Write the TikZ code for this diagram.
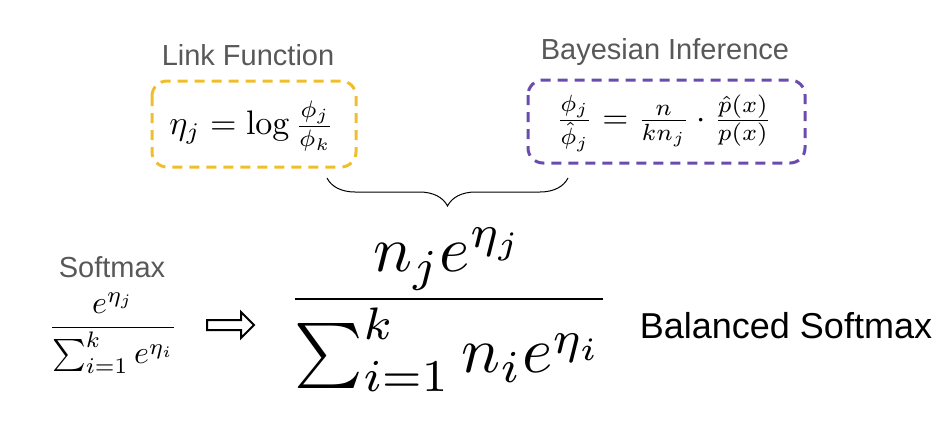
\documentclass[tikz,border=0pt]{standalone}
\usepackage{fontspec}
\usepackage{amsmath}
\usepackage{graphicx}
\usetikzlibrary{decorations.pathreplacing,shapes.arrows}
\newfontfamily\labfont{Liberation Sans}
\definecolor{goldc}{HTML}{F0BE2C}
\definecolor{purpc}{HTML}{6A4CAE}
\definecolor{labgray}{HTML}{585858}
\tikzset{
  lab/.style={font=\labfont\fontsize{29}{34}\selectfont, text=labgray, inner sep=0pt},
  dbox/.style={rounded corners=15pt, line width=3pt, dash pattern=on 10pt off 7pt},
  eq/.style={inner sep=0pt},
}
\begin{document}
\begin{tikzpicture}[x=1pt,y=-1pt]
\useasboundingbox (0,0) rectangle (941,420);
% link function
\node[lab] (linklab) at (248,55) {Link Function};
\draw[dbox, goldc] (152,81) rectangle (356,167);
\node[eq] (linkeq) at (252,126) {\scalebox{3.4}{$\eta_j = \log\frac{\phi_j}{\phi_k}$}};
% bayesian
\node[lab] (bayeslab) at (665,52) {Bayesian Inference};
\draw[dbox, purpc] (528,80) rectangle (805,163);
\node[eq] (bayeseq) at (664,123) {\scalebox{3.35}{$\frac{\phi_j}{\hat{\phi}_j} = \frac{n}{kn_j}\cdot\frac{\hat{p}(x)}{p(x)}$}};
% brace
\coordinate (bl) at (327,178);
\coordinate (br) at (568,178);
\draw[decorate, decoration={brace, amplitude=28pt, mirror}, line width=1pt] (bl) -- (br);
% softmax
\node[lab] (softlab) at (112,267) {Softmax};
\node[eq] (softeq) at (113,333) {\scalebox{3.2}{$\dfrac{e^{\eta_j}}{\sum_{i=1}^{k} e^{\eta_i}}$}};
% arrow
\node[single arrow, draw, line width=2pt, minimum height=47pt, inner sep=4pt, single arrow head extend=8pt] (arr) at (228,325) {};
% balanced
\node[eq] (baleq) at (449,310) {\scalebox{6.5}{$\dfrac{n_j e^{\eta_j}}{\sum_{i=1}^{k} n_i e^{\eta_i}}$}};
\node[lab, text=black, font=\labfont\fontsize{36}{42}\selectfont] (ballab) at (786,326) {Balanced Softmax};
\end{tikzpicture}
\end{document}
